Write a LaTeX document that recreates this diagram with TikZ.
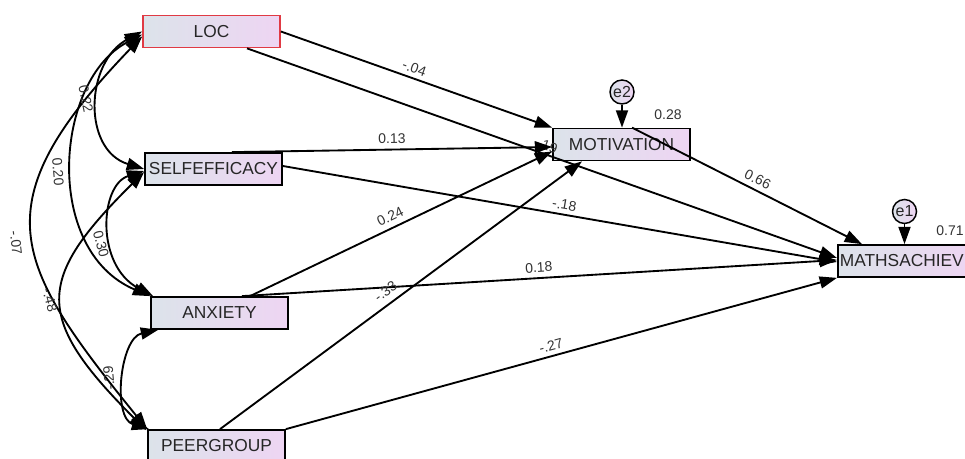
\documentclass[tikz,border=0pt]{standalone}
\usepackage{fontspec}
\setmainfont{Liberation Sans}
\usetikzlibrary{arrows.meta,calc}
\definecolor{boxL}{HTML}{DCE3EA}
\definecolor{boxR}{HTML}{EED5F3}
\definecolor{lblc}{HTML}{333333}
\definecolor{locred}{HTML}{E03A44}
\begin{document}
\begin{tikzpicture}[x=0.75pt,y=-0.75pt,
  box/.style={draw=black, line width=1.3pt, left color=boxL, right color=boxR, minimum width=102.75pt, minimum height=24pt, inner sep=0pt, font=\fontsize{13}{15}\selectfont, text=black!85},
  errc/.style={circle, draw=black, line width=1.1pt, left color=boxL, right color=boxR, minimum size=18pt, inner sep=0pt, font=\fontsize{12}{13}\selectfont, text=black!85},
  conn/.style={line width=1.4pt, -{Triangle[length=13pt,width=9pt]}},
  cov/.style={line width=1.4pt, {Triangle[length=13pt,width=9pt]}-{Triangle[length=13pt,width=9pt]}},
  lbl/.style={font=\fontsize{10.5}{12}\selectfont, text=lblc, inner sep=1pt},
]
\useasboundingbox (0,0) rectangle (965,459);
\clip (0,0) rectangle (965,459);
\fill[white] (0,0) rectangle (965,459);

% boxes
\node[box, draw=locred] (loc) at (211.5,31.5) {LOC};
\node[box] (self) at (213.5,169) {SELFEFFICACY};
\node[box] (anx) at (219.5,313) {ANXIETY};
\node[box] (peer) at (216.5,446) {PEERGROUP};
\node[box] (mot) at (621.5,144.5) {MOTIVATION};
\node[box, anchor=west, minimum width=0pt, text width=99.75pt, inner xsep=1.5pt, align=left] (maths) at (837,261) {MATHSACHIEV};
\node[errc] (e2) at (622,92) {e2};
\node[errc] (e1) at (904.5,211.5) {e1};

% regression paths
\draw[conn] ($(loc.south)+(35.5,0)$) -- node[lbl, sloped, above=1pt, pos=0.505] (l2) {.19} ($(maths.west)+(0,-3)$);
\draw[conn] (loc.east) -- node[lbl, sloped, above=2pt, pos=0.48] (l1) {-.04} (mot.north west);
\draw[conn] ($(self.north)+(18.5,0)$) -- node[lbl, sloped, above=3pt, pos=0.5] (l3) {0.13} ($(mot.west)+(0,2.5)$);
\draw[conn] ($(self.east)+(0,-3)$) -- node[lbl, sloped, above=2pt, pos=0.505] (l4) {-.18} ($(maths.west)+(0,1)$);
\draw[conn] ($(anx.north)+(30.5,0)$) -- node[lbl, sloped, above=3pt, pos=0.48] (l5) {0.24} ($(mot.west)+(0,7)$);
\draw[conn] ($(anx.north)+(22.5,0)$) -- node[lbl, sloped, above=2.5pt, pos=0.5] (l6) {0.18} ($(maths.west)+(0,-1)$);
\draw[conn] ($(peer.north)+(3.5,0)$) -- node[lbl, sloped, above=4pt, pos=0.478] (l7) {-.33} ($(mot.south)+(-39.5,0)$);
\draw[conn] (peer.north east) -- node[lbl, sloped, above=2.5pt, pos=0.486] (l8) {-.27} (maths.south west);
\draw[conn] ($(mot.north)+(10.5,0)$) -- node[lbl, sloped, above=2.5pt, pos=0.526] (l9) {0.66} ($(maths.north west)+(25,0)$);
\draw[conn] (e2.south) -- (e2.south |- mot.north);
\draw[conn] (e1.south) -- (e1.south |- maths.north);

% covariances
\draw[cov] ($(loc.west)+(0,0)$) .. controls (85,62) and (82,150) .. (self.west);
\draw[cov] ($(loc.west)+(0,3)$) .. controls (55,80) and (42,250) .. (anx.north west);
\draw[cov] ($(loc.west)+(0,5)$) .. controls (-20,205) and (12,262) .. (peer.north west);
\draw[cov] ($(self.west)+(0,2)$) .. controls (100,185) and (95,265) .. ($(anx.north west)+(3,0)$);
\draw[cov] ($(self.west)+(0,3)$) .. controls (35,280) and (34,318) .. ($(peer.north west)+(-1,1)$);
\draw[cov] ($(anx.south west)+(8,0)$) .. controls (120,338) and (112,418) .. ($(peer.north west)+(2,0)$);

% covariance labels
\node[lbl, rotate=-78] (c1) at (86,99) {0.22};
\node[lbl, rotate=-85] (c2) at (58,172) {0.20};
\node[lbl, rotate=-83] (c3) at (16,243) {-.07};
\node[lbl, rotate=-75] (c4) at (101,244) {0.30};
\node[lbl, rotate=-75] (c5) at (50,300) {-.48};
\node[lbl, rotate=95] (c6) at (109,378) {-.29};

% squared multiple correlations
\node[lbl] (r2) at (668,115) {0.28};
\node[lbl] (r1) at (950,231) {0.71};
\end{tikzpicture}
\end{document}
